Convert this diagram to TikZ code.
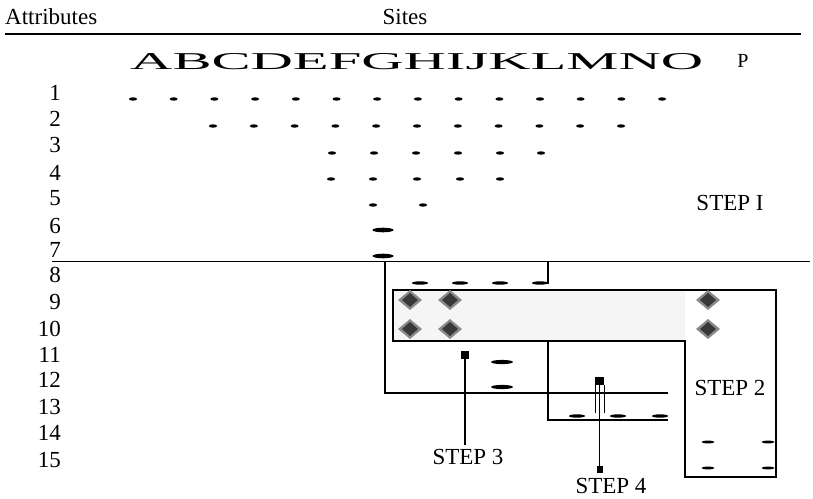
\documentclass[tikz,border=0pt]{standalone}
\usepackage{fontspec}
\setmainfont{Liberation Serif}
\usepackage{graphicx}
\definecolor{boxgray}{HTML}{F5F5F5}
\definecolor{diamdark}{HTML}{383838}
\definecolor{diamlight}{HTML}{8A8A8A}

\begin{document}
\begin{tikzpicture}[x=1pt,y=-1pt,
    lbl/.style={inner sep=0pt,font=\fontsize{23}{26}\selectfont},
    rownum/.style={lbl,anchor=east},
    frame/.style={line width=1.1pt}]
  \useasboundingbox (0,0) rectangle (813,498);
  % Kopf
  \node[lbl,anchor=west] (attr) at (5,17) {Attributes};
  \node[lbl] (sites) at (405,17) {Sites};
  \draw[line width=2pt] (5,34) -- (801,34);
  \node[inner sep=0pt,anchor=base west] (sitelist) at (130,69)
    {\resizebox{573pt}{16pt}{\fontsize{20}{20}\selectfont ABCDEFGHIJKLMNO}};
  \node[inner sep=0pt,font=\fontsize{20}{22}\selectfont] (siteP) at (743,61) {P};
  % Attribute
  \foreach \n/\y in {1/93,2/119,3/145,4/173,5/198,6/226,7/250,8/275,
                     9/302,10/329,11/355,12/380,13/407,14/433,15/460} {
    \node[rownum] (row\n) at (61,\y) {\n};
  }
  % Step I
  \foreach \k in {0,...,13}
    \fill (133+40.7*\k,99) ellipse [x radius=4, y radius=1.7];
  \foreach \k in {0,...,10}
    \fill (213+40.8*\k,126) ellipse [x radius=4, y radius=1.7];
  \foreach \x in {332,374,416,458,500,541}
    \fill (\x,153) ellipse [x radius=4, y radius=1.7];
  \foreach \x in {331,373,417,460,500}
    \fill (\x,179) ellipse [x radius=4, y radius=1.7];
  \foreach \x in {373,423}
    \fill (\x,205) ellipse [x radius=4, y radius=1.7];
  \foreach \y in {230,256}
    \fill (383,\y) ellipse [x radius=10.5, y radius=2.3];
  \node[lbl] (step1) at (730,203) {STEP I};
  \draw[line width=1.5pt] (52,261.5) -- (810,261.5);
  % Step 2
  \fill[boxgray] (393,290) rectangle (685,341);
  \draw[frame] (393,290) -- (776,290) -- (776,477) -- (685,477)
    -- (685,341) -- (393,341) -- cycle;
  \foreach \x/\y in {410/300,450/300,708/300,410/329,450/329,708/329} {
    \fill[diamlight] (\x,\y) +(-12,0) -- +(0,-10) -- +(12,0) -- +(0,10) -- cycle;
    \fill[diamdark] (\x,\y) +(-8,0) -- +(0,-7) -- +(8,0) -- +(0,7) -- cycle;
  }
  \foreach \x in {420,460,500,540}
    \fill (\x,283) ellipse [x radius=8, y radius=1.7];
  \draw[line width=1.5pt] (548,261.5) -- (548,283) -- (538,283);
  \foreach \y in {442,468}
    \foreach \x in {708,768}
      \fill (\x,\y) ellipse [x radius=6.5, y radius=1.4];
  \node[lbl] (step2) at (730,388) {STEP 2};
  % Step 3
  \draw[frame] (385,261.5) -- (385,393) -- (668,393);
  \foreach \y in {362,387}
    \fill (502,\y) ellipse [x radius=11, y radius=2.1];
  \node[lbl] (step3) at (468,457) {STEP 3};
  \fill (465,355) ++(-4,-4) rectangle ++(8,8);
  \draw[frame] (465,355) -- (465,445);
  % Step 4
  \draw[frame] (548,341) -- (548,420) -- (668,420);
  \foreach \x in {577,618,660}
    \fill (\x,416) ellipse [x radius=8, y radius=1.7];
  \draw[line width=0.7pt] (595,385) -- (595,413)
    (604,385) -- (604,413);
  \draw[frame] (599.5,381) -- (599.5,469);
  \fill (599.5,381) ++(-4.5,-4) rectangle ++(9,8);
  \fill (599.5,469) ++(-3,-3.5) rectangle ++(6,7);
  \node[lbl] (step4) at (611,486) {STEP 4};
\end{tikzpicture}
\end{document}
